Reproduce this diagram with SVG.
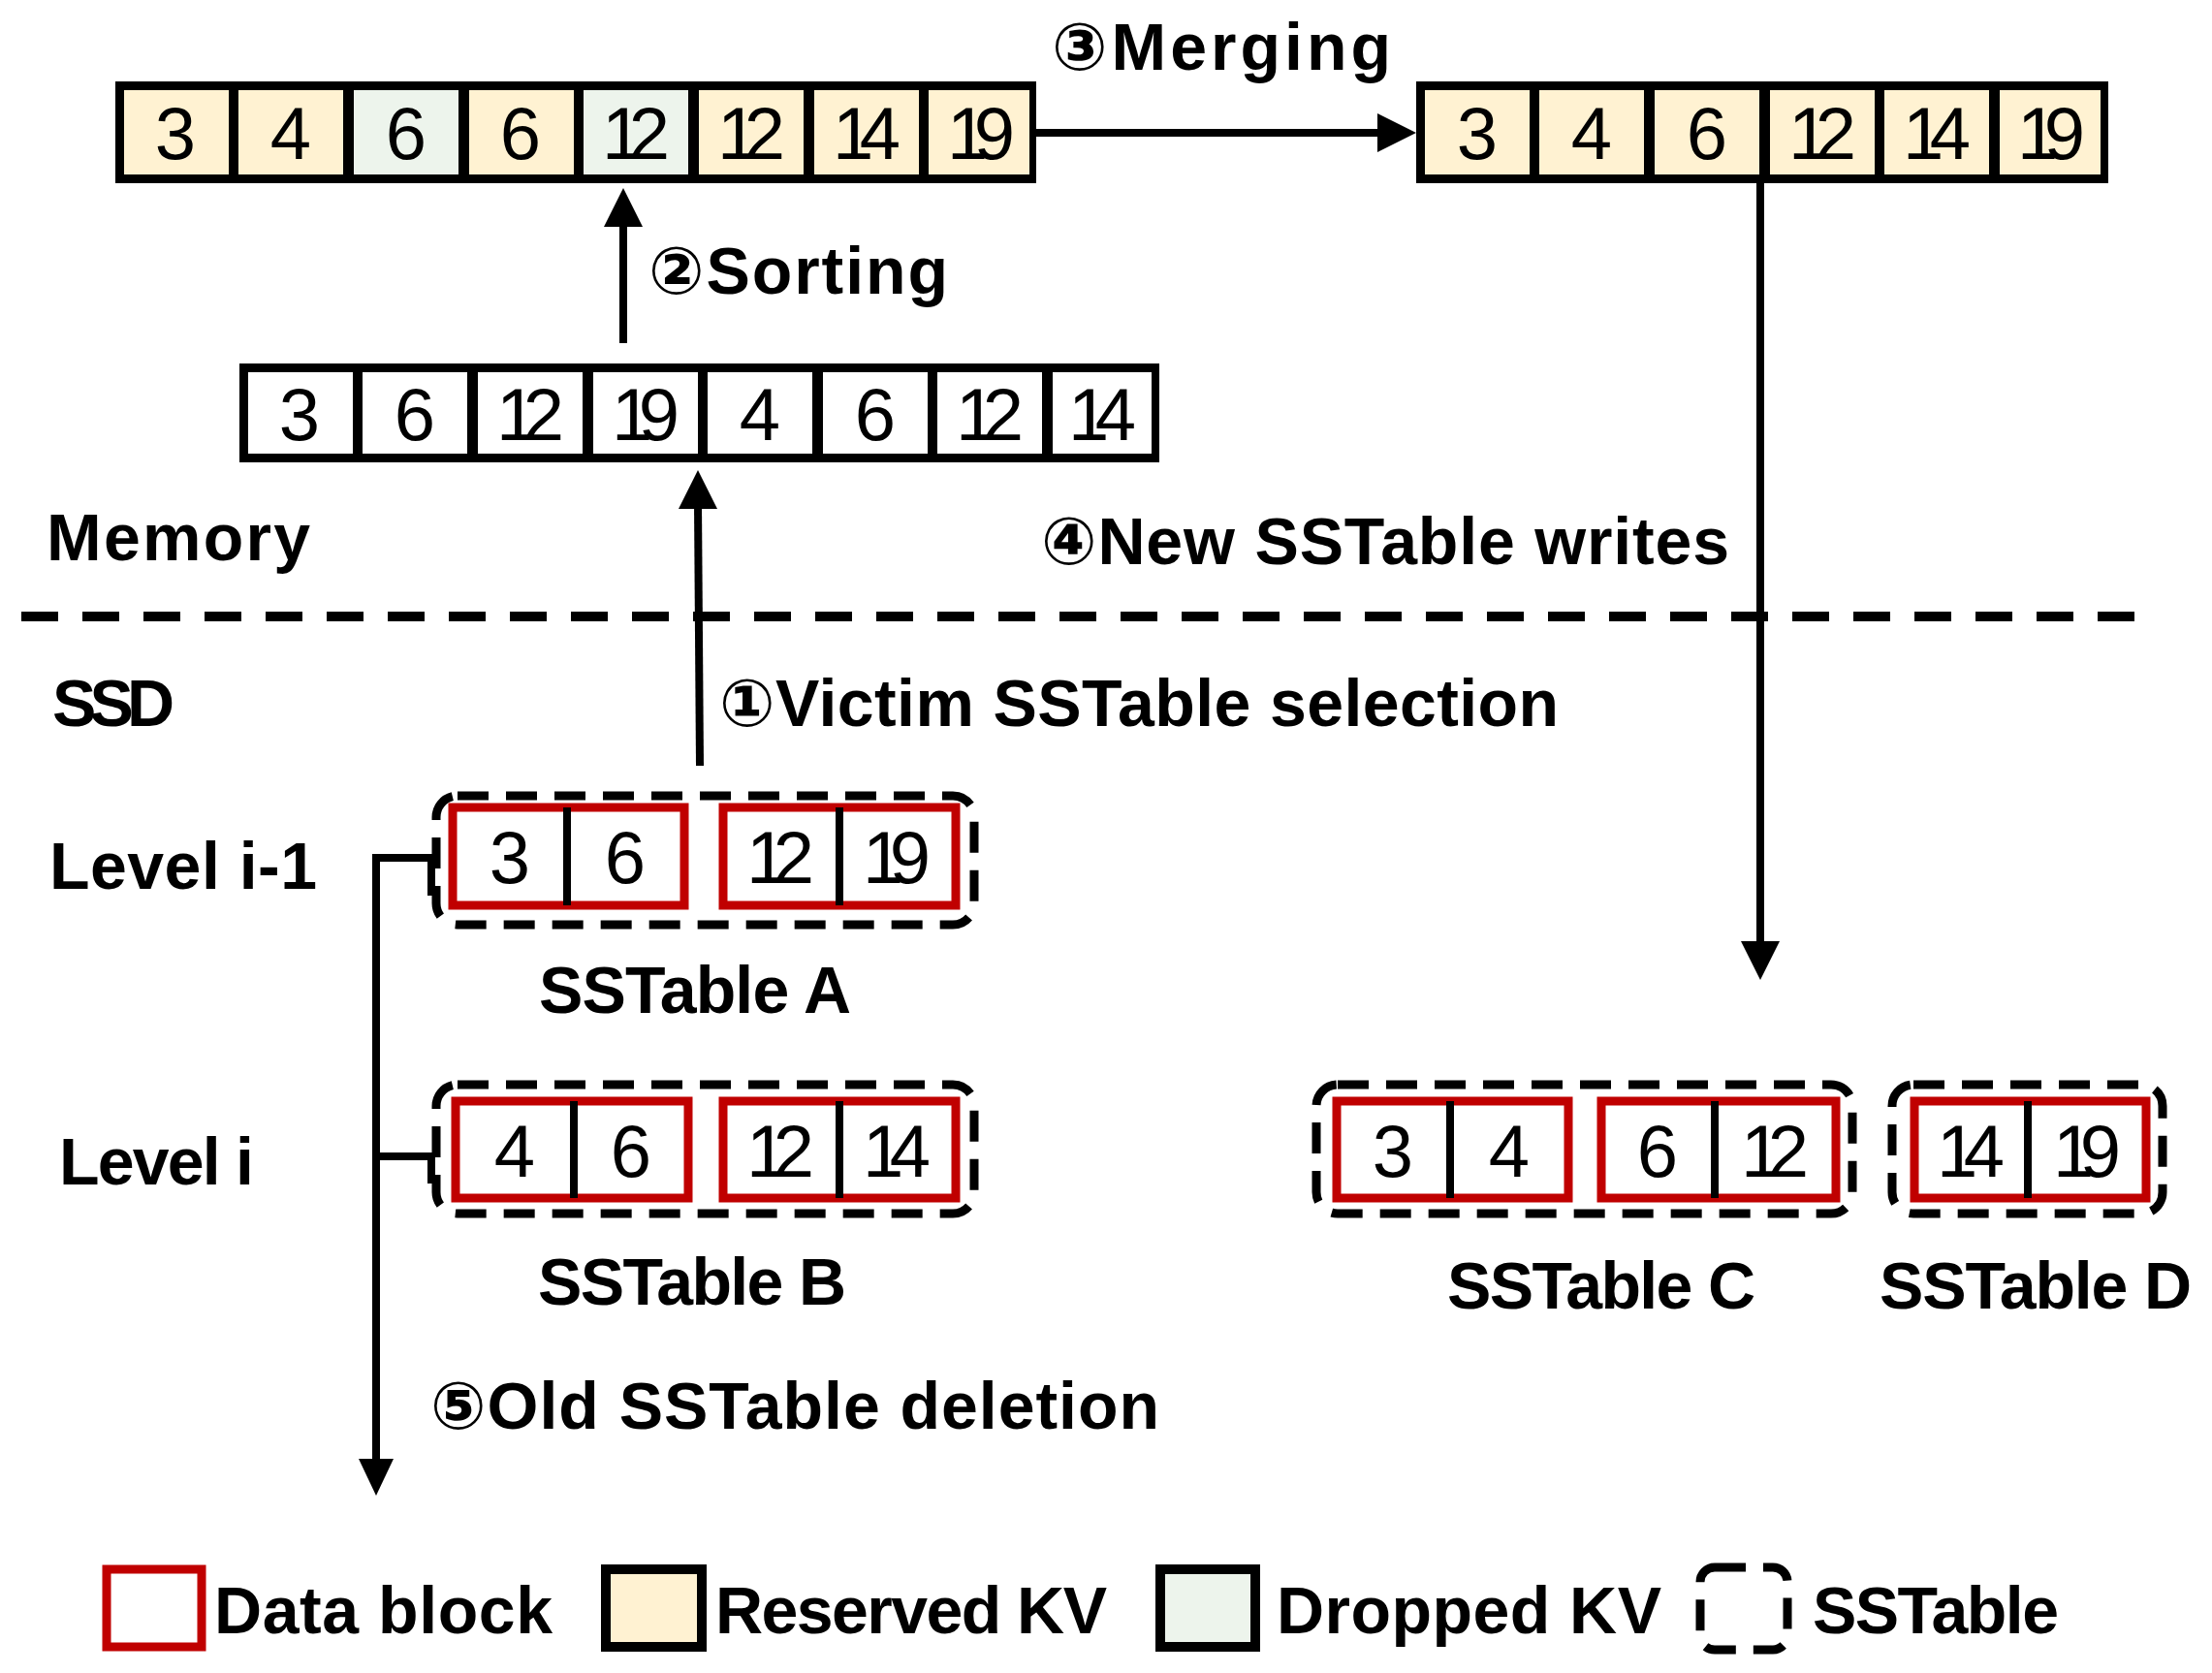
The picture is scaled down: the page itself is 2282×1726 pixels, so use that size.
<svg xmlns="http://www.w3.org/2000/svg" width="2282" height="1726" viewBox="0 0 2282 1726">
<style>
.cell{stroke:#000;stroke-width:10}
.res{fill:#FFF2D2}.drop{fill:#EDF4EC}.wht{fill:#fff}
.num{font-family:"Liberation Sans",sans-serif;font-size:76px;text-anchor:middle}
.lbl{font-family:"Liberation Sans","DejaVu Sans",sans-serif;font-size:68px;font-weight:bold}
.red{fill:none;stroke:#C00000;stroke-width:9}
.div{stroke:#000;stroke-width:8}
.ss{fill:none;stroke:#000;stroke-width:9;stroke-dasharray:32 18}
.ln{stroke:#000;stroke-width:8;fill:none}
</style>
<rect width="2282" height="1726" fill="#fff"/>
<g id="top-bar">
<rect x="119" y="84" width="950" height="105" fill="#000"/>
<rect class="res" x="128" y="93" width="108" height="87"/><rect class="res" x="246" y="93" width="108" height="87"/>
<rect class="drop" x="365" y="93" width="108" height="87"/><rect class="res" x="484" y="93" width="108" height="87"/>
<rect class="drop" x="602" y="93" width="108" height="87"/><rect class="res" x="721" y="93" width="108" height="87"/>
<rect class="res" x="840" y="93" width="108" height="87"/><rect class="res" x="958" y="93" width="104" height="87"/>
<text class="num" x="181" y="164">3</text><text class="num" x="300" y="164">4</text><text class="num" x="419" y="164">6</text><text class="num" x="537" y="164">6</text>
<text class="num" x="656" y="164" textLength="70">12</text><text class="num" x="775" y="164" textLength="70">12</text><text class="num" x="894" y="164" textLength="70">14</text><text class="num" x="1012" y="164" textLength="70">19</text>
</g>
<g id="merged-bar">
<rect x="1461" y="84" width="714" height="105" fill="#000"/>
<rect class="res" x="1470" y="93" width="108" height="87"/><rect class="res" x="1588" y="93" width="108" height="87"/>
<rect class="res" x="1707" y="93" width="108" height="87"/><rect class="res" x="1826" y="93" width="108" height="87"/>
<rect class="res" x="1944" y="93" width="108" height="87"/><rect class="res" x="2063" y="93" width="104" height="87"/>
<text class="num" x="1524" y="164">3</text><text class="num" x="1642" y="164">4</text><text class="num" x="1761" y="164">6</text>
<text class="num" x="1880" y="164" textLength="70">12</text><text class="num" x="1998" y="164" textLength="70">14</text><text class="num" x="2116" y="164" textLength="70">19</text>
</g>
<g id="input-bar">
<rect x="247" y="375" width="949" height="102" fill="#000"/>
<rect class="wht" x="256" y="384" width="108" height="84"/><rect class="wht" x="374" y="384" width="108" height="84"/>
<rect class="wht" x="493" y="384" width="108" height="84"/><rect class="wht" x="612" y="384" width="108" height="84"/>
<rect class="wht" x="730" y="384" width="108" height="84"/><rect class="wht" x="849" y="384" width="108" height="84"/>
<rect class="wht" x="967" y="384" width="108" height="84"/><rect class="wht" x="1086" y="384" width="102" height="84"/>
<text class="num" x="309" y="454">3</text><text class="num" x="428" y="454">6</text>
<text class="num" x="547" y="454" textLength="70">12</text><text class="num" x="666" y="454" textLength="70">19</text>
<text class="num" x="784" y="454">4</text><text class="num" x="903" y="454">6</text>
<text class="num" x="1021" y="454" textLength="70">12</text><text class="num" x="1137" y="454" textLength="70">14</text>
</g>
<g id="labels">
<text class="lbl" x="1085" y="72" textLength="350">③Merging</text>
<text class="lbl" x="669" y="303" textLength="309">②Sorting</text>
<text class="lbl" x="48" y="578" textLength="272">Memory</text>
<text class="lbl" x="1074" y="582" textLength="710">④New SSTable writes</text>
<text class="lbl" x="54" y="749" textLength="126">SSD</text>
<text class="lbl" x="742" y="749" textLength="866">①Victim SSTable selection</text>
<text class="lbl" x="51" y="917" textLength="276">Level i-1</text>
<text class="lbl" x="61" y="1222" textLength="201">Level i</text>
<text class="lbl" x="556" y="1045" textLength="322">SSTable A</text>
<text class="lbl" x="555" y="1346" textLength="318">SSTable B</text>
<text class="lbl" x="1493" y="1350" textLength="318">SSTable C</text>
<text class="lbl" x="1939" y="1350" textLength="322">SSTable D</text>
<text class="lbl" x="444" y="1474" textLength="752">⑤Old SSTable deletion</text>
</g>
<line x1="22" y1="636" x2="2212" y2="636" stroke="#000" stroke-width="10" stroke-dasharray="38 25"/>
<g id="sstable-a">
<rect class="ss" x="450" y="821" width="555" height="133" rx="22"/>
<rect class="wht" x="463" y="829" width="523" height="109"/>
<rect class="red" x="467" y="833" width="239" height="101"/><rect class="red" x="746" y="833" width="240" height="101"/>
<line class="div" x1="585" y1="833" x2="585" y2="934"/><line class="div" x1="866" y1="833" x2="866" y2="934"/>
<text class="num" x="526" y="911">3</text><text class="num" x="645" y="911">6</text>
<text class="num" x="805" y="911" textLength="70">12</text><text class="num" x="925" y="911" textLength="70">19</text>
</g>
<g id="sstable-b">
<rect class="ss" x="450" y="1119" width="555" height="133" rx="22"/>
<rect class="wht" x="466" y="1132" width="520" height="108"/>
<rect class="red" x="470" y="1136" width="240" height="100"/><rect class="red" x="746" y="1136" width="240" height="100"/>
<line class="div" x1="592" y1="1136" x2="592" y2="1236"/><line class="div" x1="866" y1="1136" x2="866" y2="1236"/>
<text class="num" x="531" y="1214">4</text><text class="num" x="651" y="1214">6</text>
<text class="num" x="805" y="1214" textLength="70">12</text><text class="num" x="925" y="1214" textLength="70">14</text>
</g>
<g id="sstable-c">
<rect class="ss" x="1358" y="1119" width="553" height="133" rx="22"/>
<rect class="red" x="1379" y="1136" width="239" height="100"/><rect class="red" x="1652" y="1136" width="242" height="100"/>
<line class="div" x1="1496" y1="1136" x2="1496" y2="1236"/><line class="div" x1="1769" y1="1136" x2="1769" y2="1236"/>
<text class="num" x="1437" y="1214">3</text><text class="num" x="1557" y="1214">4</text>
<text class="num" x="1710" y="1214">6</text><text class="num" x="1831" y="1214" textLength="70">12</text>
</g>
<g id="sstable-d">
<rect class="ss" x="1952" y="1119" width="279" height="133" rx="22"/>
<rect class="red" x="1975" y="1136" width="239" height="100"/>
<line class="div" x1="2092" y1="1136" x2="2092" y2="1236"/>
<text class="num" x="2033" y="1214" textLength="70">14</text><text class="num" x="2153" y="1214" textLength="70">19</text>
</g>
<g id="connectors">
<line class="ln" x1="1069" y1="137" x2="1425" y2="137"/><polygon points="1461,137 1421,117 1421,157"/>
<line class="ln" x1="643" y1="354" x2="643" y2="228"/><polygon points="643,194 623,234 663,234"/>
<line class="ln" x1="722" y1="790" x2="720" y2="519"/><polygon points="720,485 700,525 740,525"/>
<line class="ln" x1="1816" y1="189" x2="1816" y2="975"/><polygon points="1816,1011 1796,971 1836,971"/>
<polyline class="ln" points="445,924 445,885 388,885 388,1510"/><polygon points="388,1543 370,1505 406,1505"/>
<polyline class="ln" points="388,1193 445,1193 445,1221"/>
</g>
<g id="legend">
<rect x="110" y="1619" width="98" height="80" fill="#fff" stroke="#C00000" stroke-width="9"/>
<text class="lbl" x="221" y="1685" textLength="349">Data block</text>
<rect class="res" x="625" y="1619" width="99" height="80" stroke="#000" stroke-width="10"/>
<text class="lbl" x="738" y="1685" textLength="404">Reserved KV</text>
<rect class="drop" x="1197" y="1619" width="98" height="80" stroke="#000" stroke-width="10"/>
<text class="lbl" x="1317" y="1685" textLength="397">Dropped KV</text>
<rect class="ss" x="1754" y="1617" width="90" height="85" rx="15"/>
<text class="lbl" x="1870" y="1685" textLength="254">SSTable</text>
</g>
</svg>
